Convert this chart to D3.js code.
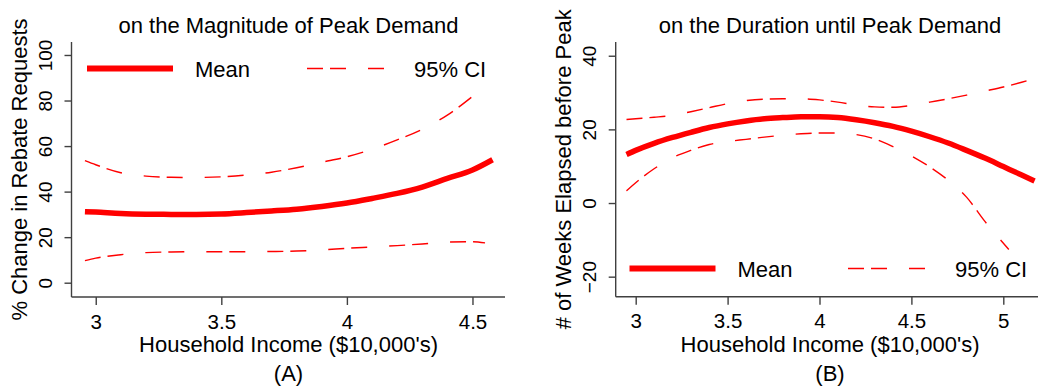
<!DOCTYPE html>
<html>
<head>
<meta charset="utf-8">
<script src="https://cdn.jsdelivr.net/npm/d3@7"></script>
<style>
  html, body { margin: 0; padding: 0; background: #fff; }
  svg { display: block; }
  text { font-family: "Liberation Sans", Arial, sans-serif; fill: #000; }
</style>
</head>
<body>
<svg id="chart" width="1038" height="387"></svg>
<script>
// ---------- Panel A data: magnitude of peak demand ----------
const titleA = "on the Magnitude of Peak Demand";
const yLabelA = "% Change in Rebate Requests";
const panelLabelA = "(A)";
const xTicksA = [3, 3.5, 4, 4.5];
const yTicksA = [0, 20, 40, 60, 80, 100];
const incomeMeanA = [2.957, 3.0, 3.1, 3.2, 3.3, 3.4, 3.5, 3.6, 3.7, 3.8, 3.9, 4.0, 4.1, 4.2, 4.3, 4.4, 4.5, 4.58];
const meanA       = [31.2, 31.0, 30.4, 30.1, 30.0, 30.0, 30.2, 30.8, 31.5, 32.3, 33.5, 35.0, 37.0, 39.2, 42.0, 45.8, 49.5, 54.0];
const incomeUpperA = [2.957, 3.0, 3.1, 3.2, 3.3, 3.4, 3.5, 3.6, 3.7, 3.8, 3.9, 4.0, 4.1, 4.2, 4.3, 4.4, 4.5];
const upperA       = [53.6, 51.8, 48.3, 46.8, 46.3, 46.2, 46.5, 47.3, 48.5, 50.5, 52.9, 55.3, 58.6, 62.7, 67.4, 73.6, 81.8];
const incomeLowerA = [2.957, 3.0, 3.1, 3.2, 3.3, 3.4, 3.5, 3.6, 3.7, 3.8, 3.9, 4.0, 4.1, 4.2, 4.3, 4.4, 4.5, 4.55];
const lowerA       = [9.7, 10.8, 12.3, 13.2, 13.5, 13.6, 13.6, 13.6, 13.7, 13.9, 14.4, 15.1, 15.7, 16.3, 17.0, 17.8, 18.0, 17.5];

// ---------- Panel B data: duration until peak demand ----------
const titleB = "on the Duration until Peak Demand";
const yLabelB = "# of Weeks Elapsed before Peak";
const panelLabelB = "(B)";
const xTicksB = [3, 3.5, 4, 4.5, 5];
const yTicksB = [-20, 0, 20, 40];
const incomeB = [2.95, 3.0, 3.1, 3.2, 3.3, 3.4, 3.5, 3.6, 3.7, 3.8, 3.9, 4.0, 4.1, 4.2, 4.3, 4.4, 4.5, 4.6, 4.7, 4.8, 4.9, 5.0, 5.1, 5.17];
const meanB   = [13.2, 14.3, 16.2, 17.8, 19.2, 20.5, 21.5, 22.3, 22.9, 23.2, 23.4, 23.4, 23.2, 22.6, 21.8, 20.8, 19.5, 18.0, 16.3, 14.3, 12.2, 9.9, 7.6, 6.0];
const upperB  = [22.7, 22.9, 23.3, 23.8, 24.8, 25.9, 27.0, 27.8, 28.2, 28.3, 28.3, 28.0, 27.4, 26.6, 26.1, 26.0, 26.5, 27.4, 28.3, 29.3, 30.4, 31.5, 32.8, 33.8];
const incomeLowerB = [2.95, 3.0, 3.1, 3.2, 3.3, 3.4, 3.5, 3.6, 3.7, 3.8, 3.9, 4.0, 4.1, 4.2, 4.3, 4.4, 4.5, 4.6, 4.7, 4.8, 4.9, 5.03];
const lowerB       = [3.3, 5.5, 9.3, 12.3, 14.3, 15.9, 16.7, 17.3, 17.9, 18.4, 18.8, 19.0, 19.0, 18.6, 17.4, 15.3, 12.8, 9.8, 6.2, 1.6, -5.0, -12.6];

const xAxisLabel = "Household Income ($10,000's)";
const legendLabels = ["Mean", "95% CI"];

const RED = "#ff0000";
const AXIS = "#404040";
const DASH = "16,7,16,22";

const svg = d3.select("#chart");

function zip(xs, ys) { return xs.map((x, i) => [x, ys[i]]); }

function drawPanel(cfg) {
  const g = svg.append("g");
  const x = d3.scaleLinear().domain(cfg.xDomain).range([cfg.left, cfg.right]);
  const y = d3.scaleLinear().domain(cfg.yDomain).range([cfg.bottom, cfg.top]);

  // axes lines (L frame)
  g.append("line").attr("x1", cfg.left).attr("x2", cfg.left)
    .attr("y1", cfg.top).attr("y2", cfg.bottom)
    .attr("stroke", AXIS).attr("stroke-width", 1.4);
  g.append("line").attr("x1", cfg.left).attr("x2", cfg.right)
    .attr("y1", cfg.bottom).attr("y2", cfg.bottom)
    .attr("stroke", AXIS).attr("stroke-width", 1.4);

  // x axis ticks
  const xa = g.append("g").attr("transform", `translate(0,${cfg.bottom})`)
    .call(d3.axisBottom(x).tickValues(cfg.xTicks).tickSize(8).tickSizeOuter(0).tickFormat(d3.format("")));
  xa.select(".domain").remove();
  xa.selectAll(".tick line").attr("stroke", AXIS).attr("stroke-width", 1.4);
  xa.selectAll(".tick text").attr("y", 31.5).attr("dy", null)
    .style("font-size", "20.5px").attr("fill", "#000");

  // y axis ticks
  const ya = g.append("g").attr("transform", `translate(${cfg.left},0)`)
    .call(d3.axisLeft(y).tickValues(cfg.yTicks).tickSize(7).tickSizeOuter(0).tickFormat(d3.format("")));
  ya.select(".domain").remove();
  ya.selectAll(".tick line").attr("stroke", AXIS).attr("stroke-width", 1.4);
  ya.selectAll(".tick text")
    .attr("x", null).attr("dy", null)
    .attr("transform", "translate(-20,0) rotate(-90)")
    .attr("text-anchor", "middle")
    .style("font-size", "19px").attr("fill", "#000");

  // lines
  const line = d3.line().x(d => x(d[0])).y(d => y(d[1])).curve(d3.curveMonotoneX);
  g.append("path").datum(zip(cfg.upperX, cfg.upper)).attr("d", line)
    .attr("fill", "none").attr("stroke", RED).attr("stroke-width", 1.4).attr("stroke-dasharray", DASH);
  g.append("path").datum(zip(cfg.lowerX, cfg.lower)).attr("d", line)
    .attr("fill", "none").attr("stroke", RED).attr("stroke-width", 1.4).attr("stroke-dasharray", DASH);
  g.append("path").datum(zip(cfg.meanX, cfg.mean)).attr("d", line)
    .attr("fill", "none").attr("stroke", RED).attr("stroke-width", 5.5);

  // titles
  g.append("text").attr("x", cfg.titleX).attr("y", 32.5).attr("text-anchor", "middle")
    .style("font-size", "22px").text(cfg.title);
  g.append("text").attr("x", cfg.titleX).attr("y", 351.5).attr("text-anchor", "middle")
    .style("font-size", "22px").text(xAxisLabel);
  g.append("text").attr("x", cfg.titleX).attr("y", 381).attr("text-anchor", "middle")
    .style("font-size", "22px").text(cfg.panelLabel);
  g.append("text").attr("transform", `translate(${cfg.yLabelX},${(cfg.top + cfg.bottom) / 2}) rotate(-90)`)
    .attr("text-anchor", "middle").style("font-size", "22px").text(cfg.yLabel);

  // legend
  const L = cfg.legend;
  g.append("line").attr("x1", L.x0).attr("x2", L.x0 + 86).attr("y1", L.y).attr("y2", L.y)
    .attr("stroke", RED).attr("stroke-width", 6);
  g.append("text").attr("x", L.x0 + 108).attr("y", L.y + 8.5).style("font-size", "22px").text(legendLabels[0]);
  g.append("line").attr("x1", L.x1).attr("x2", L.x1 + 77).attr("y1", L.y).attr("y2", L.y)
    .attr("stroke", RED).attr("stroke-width", 1.4).attr("stroke-dasharray", DASH);
  g.append("text").attr("x", L.x1 + 107).attr("y", L.y + 8.5).style("font-size", "22px").text(legendLabels[1]);
}

drawPanel({
  left: 71.5, right: 505, top: 42, bottom: 297,
  xDomain: [2.9035, 4.6295], yDomain: [-6.28, 105.7],
  xTicks: xTicksA, yTicks: yTicksA,
  meanX: incomeMeanA, mean: meanA,
  upperX: incomeUpperA, upper: upperA,
  lowerX: incomeLowerA, lower: lowerA,
  title: titleA, yLabel: yLabelA, panelLabel: panelLabelA,
  titleX: 288.5, yLabelX: 27,
  legend: { x0: 87, x1: 307, y: 68.5 }
});

drawPanel({
  left: 615.7, right: 1038, top: 42, bottom: 296.7,
  xDomain: [2.8912, 5.1888], yDomain: [-25.44, 43.73],
  xTicks: xTicksB, yTicks: yTicksB,
  meanX: incomeB, mean: meanB,
  upperX: incomeB, upper: upperB,
  lowerX: incomeLowerB, lower: lowerB,
  title: titleB, yLabel: yLabelB, panelLabel: panelLabelB,
  titleX: 830, yLabelX: 571,
  legend: { x0: 629.5, x1: 848, y: 268.5 }
});
</script>
</body>
</html>
